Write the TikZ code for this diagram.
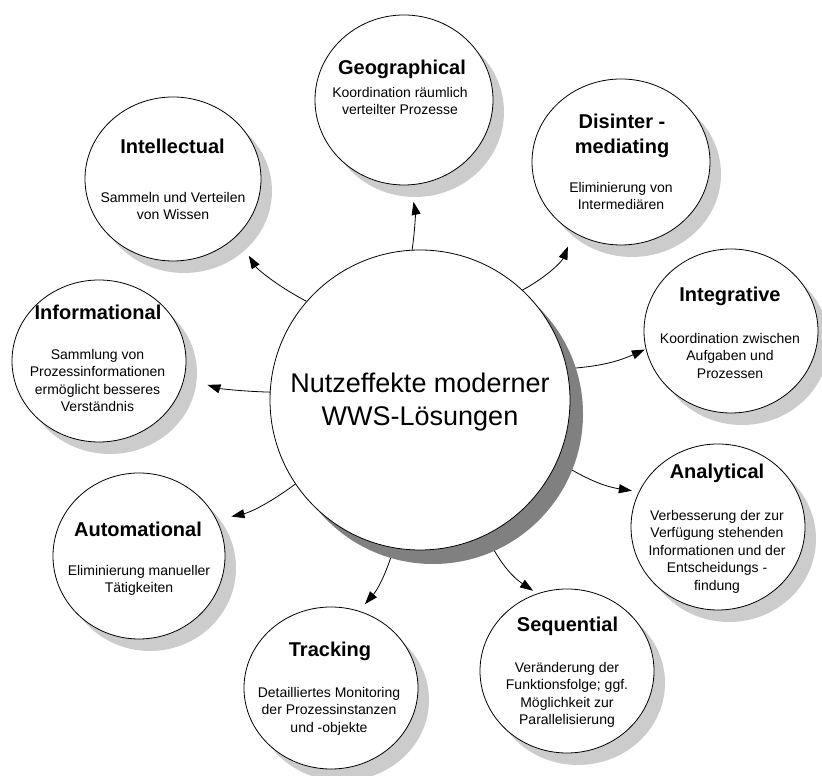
\documentclass[tikz,border=0pt]{standalone}
\usepackage{fontspec}
\setmainfont{Liberation Sans}
\usetikzlibrary{shapes.geometric,arrows.meta}
\pgfdeclarelayer{bg}
\pgfsetlayers{bg,main}
\definecolor{lightshadow}{HTML}{CCCCCC}
\definecolor{darkshadow}{HTML}{808080}
\tikzset{
  bub/.style={ellipse, draw=black, line width=0.8pt, fill=white, inner sep=0pt},
  ttl/.style={font=\fontsize{20}{25}\selectfont\bfseries, align=center, inner sep=0pt},
  bdy/.style={font=\fontsize{14}{17.5}\selectfont, align=center, inner sep=0pt, anchor=north},
  arr/.style={line width=0.8pt, -{Triangle[length=13pt,width=9pt]}},
}
\newcommand\mybubble[5]{%
  \fill[lightshadow] ({#2+11},{#3-12}) ellipse [x radius=#4, y radius=#5];
  \node[bub, minimum width={2*#4}, minimum height={2*#5}] (#1) at (#2,#3) {};
}
\begin{document}
\begin{tikzpicture}[x=1pt,y=1pt]
\useasboundingbox (0,0) rectangle (822,776);
% central
\fill[darkshadow] (433,362) circle [radius=150];
\node[circle, draw=black, line width=0.8pt, fill=white, minimum size=300pt, inner sep=0pt] (c) at (420,376) {};
\node[font=\fontsize{27}{33}\selectfont, align=center, anchor=north, inner sep=0pt] (c-t) at (420,407.1) {\strut Nutzeffekte moderner\\WWS-Lösungen};
% bubbles
\mybubble{geo}{404}{676}{89}{85}
\mybubble{dis}{621}{614}{89}{83}
\mybubble{integ}{731}{445}{87}{82}
\mybubble{anal}{718}{249}{87}{83}
\mybubble{seq}{567}{105}{87}{82}
\mybubble{track}{331}{88}{87}{81}
\mybubble{auto}{139}{220}{86}{83}
\mybubble{info}{99}{415}{87}{81}
\mybubble{intel}{173}{597}{88}{82}
% texts
\node[ttl, anchor=base] (geo-t) at (402,701) {Geographical};
\node[bdy] (geo-b) at (400,691.25) {\strut Koordination räumlich\\verteilter Prozesse};
\node[ttl, anchor=north] (dis-t) at (622,665.5) {\strut Disinter -\\mediating};
\node[bdy] (dis-b) at (621,596.25) {\strut Eliminierung von\\Intermediären};
\node[ttl, anchor=base] (integ-t) at (730,474) {Integrative};
\node[bdy] (integ-b) at (730,445.25) {\strut Koordination zwischen\\Aufgaben und\\Prozessen};
\node[ttl, anchor=base] (anal-t) at (717,297) {Analytical};
\node[bdy] (anal-b) at (717,268.25) {\strut Verbesserung der zur\\Verfügung stehenden\\Informationen und der\\Entscheidungs -\\findung};
\node[ttl, anchor=base] (seq-t) at (567.5,144) {Sequential};
\node[bdy] (seq-b) at (567,116.25) {\strut Veränderung der\\Funktionsfolge; ggf.\\Möglichkeit zur\\Parallelisierung};
\node[ttl, anchor=base] (track-t) at (330,119) {Tracking};
\node[bdy] (track-b) at (329,91.25) {\strut Detailliertes Monitoring\\der Prozessinstanzen\\und -objekte};
\node[ttl, anchor=base] (auto-t) at (138,239) {Automational};
\node[bdy] (auto-b) at (139,213.25) {\strut Eliminierung manueller\\Tätigkeiten};
\node[ttl, anchor=base] (info-t) at (98,456) {Informational};
\node[bdy] (info-b) at (97.5,429.25) {\strut Sammlung von\\Prozessinformationen\\ermöglicht besseres\\Verständnis};
\node[ttl, anchor=base] (intel-t) at (172.5,622) {Intellectual};
\node[bdy] (intel-b) at (173,586.25) {\strut Sammeln und Verteilen\\von Wissen};
% connectors
\begin{pgfonlayer}{bg}
\draw[arr, shorten >=17pt] (c.93) to[bend right=10] (geo.274.5);
\draw[arr, shorten >=15pt] (c.47.7) to[bend right=20] (dis.236);
\draw[arr, shorten >=1pt] (c.12.6) to[bend right=10] (integ.192.5);
\draw[arr, shorten >=7pt] (c.-24) to[bend right=12] (anal.156.7);
\draw[arr, shorten >=5pt] (c.-64) to[bend right=15] (seq.111.6);
\draw[arr, shorten >=9pt] (c.260) to[bend left=12] (track.70);
\draw[arr, shorten >=15pt] (c.214.9) to[bend left=12] (auto.25.3);
\draw[arr, shorten >=24pt] (c.177) to[bend left=8] (info.-11.4);
\draw[arr, shorten >=23pt] (c.139.1) to[bend left=15] (intel.-42.4);
\end{pgfonlayer}
\end{tikzpicture}
\end{document}
